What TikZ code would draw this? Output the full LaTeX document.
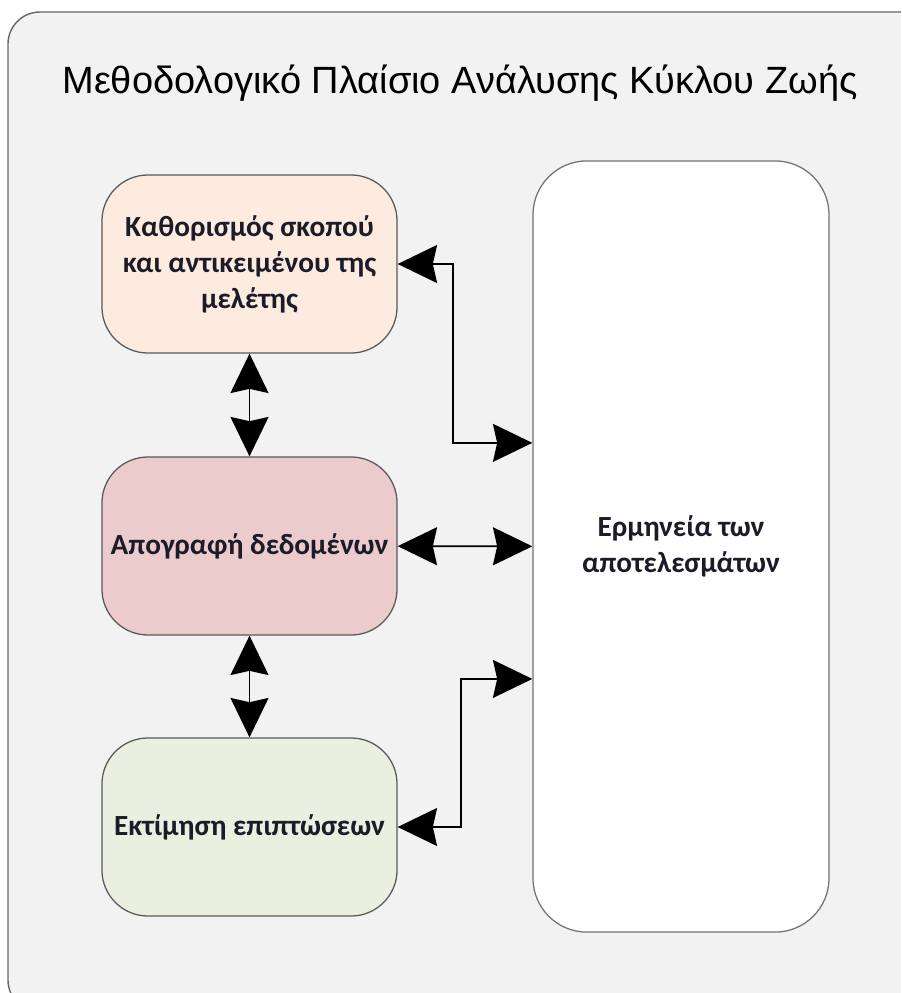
\documentclass[tikz,border=0pt]{standalone}
\usepackage{fontspec}
\setmainfont{Liberation Sans}
\newfontfamily\boxfont{Carlito}
\usetikzlibrary{arrows.meta,positioning,calc}
\definecolor{frameGray}{HTML}{F2F2F2}
\definecolor{peach}{HTML}{FCEBDE}
\definecolor{rose}{HTML}{EBCBCB}
\definecolor{sage}{HTML}{EBEFE0}
\definecolor{txtDark}{HTML}{1C1C28}
\tikzstyle{nBox}=[rectangle,rounded corners=1.15cm,minimum width=7.375cm,minimum height=4.45cm,inner sep=2pt,draw=black!65,line width=0.9pt,font=\boxfont\bfseries\fontsize{20.8}{25.5}\selectfont,text=txtDark,align=center]
\tikzstyle{nBig}=[rectangle,rounded corners=1.35cm,minimum width=7.4cm,minimum height=19.275cm,inner sep=2pt,draw=black!55,line width=0.9pt,fill=white,font=\boxfont\bfseries\fontsize{20.8}{25.5}\selectfont,text=txtDark,align=center]
\tikzstyle{eArrow}=[line width=1.3pt,black,{Stealth[length=28pt,width=27pt,inset=3pt]}-{Stealth[length=28pt,width=27pt,inset=3pt]}]
\begin{document}
\begin{tikzpicture}[x=0.025cm,y=-0.025cm]
                \useasboundingbox (0,0) rectangle (901,993);
                % outer frame (runs past the right and bottom edges)
                \begin{scope}
                \clip (0,0) rectangle (901,993);
                \draw[fill=frameGray,draw=black!60,line width=1pt,rounded corners=0.8cm] (8,12) rectangle (935,1012);
                \end{scope}
                \draw (460,83) node[font=\fontsize{27}{30}\selectfont] (title) {Μεθοδολογικό Πλαίσιο Ανάλυσης Κύκλου Ζωής};
                \draw (249.5,264) node[nBox,fill=peach] (n0) {Καθορισμός σκοπού\\και αντικειμένου της\\μελέτης};
                \draw (249.5,546) node[nBox,fill=rose] (n1) {Απογραφή δεδομένων};
                \draw (249.5,827) node[nBox,fill=sage] (n2) {Εκτίμηση επιπτώσεων};
                \draw (681,546.5) node[nBig] (n3) {Ερμηνεία των\\αποτελεσμάτων};
                \draw[eArrow] (n0) -- (n1);
                \draw[eArrow] (n1) -- (n2);
                \draw[eArrow] (n1) -- (n3);
                \draw[eArrow] (n0.east) -- ++(55,0) |- ([yshift=2.59cm]n3.west);
                \draw[eArrow] (n2.east) -- ++(63,0) |- ([yshift=-3.31cm]n3.west);
\end{tikzpicture}
\end{document}
